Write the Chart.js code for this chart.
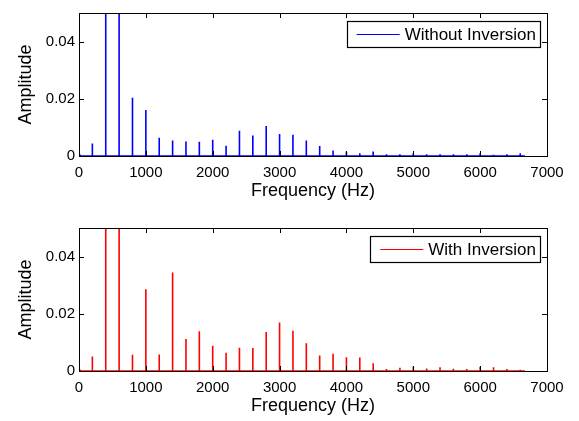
<!DOCTYPE html>
<html>
<head>
<meta charset="utf-8">
<script src="https://cdn.jsdelivr.net/npm/chart.js@4"></script>
<style>
  body { margin: 0; background: #fff; }
  #wrap { position: relative; width: 579px; height: 421px; }
  canvas { position: absolute; left: 0; }
  #topChart { top: 0; }
  #bottomChart { top: 215px; }
</style>
</head>
<body>
<div id="wrap">
  <canvas id="topChart" width="579" height="206"></canvas>
  <canvas id="bottomChart" width="579" height="206"></canvas>
</div>
<script>
// harmonic frequencies (Hz)
const freqs = [200, 400, 600, 800, 1000, 1200, 1400, 1600, 1800, 2000, 2200,
  2400, 2600, 2800, 3000, 3200, 3400, 3600, 3800, 4000, 4200, 4400,
  4600, 4800, 5000, 5200, 5400, 5600, 5800, 6000, 6200, 6400, 6600];

// peak amplitudes (400 and 600 Hz run off the top)
const ampWithout = [0.0044, 0.075, 0.06, 0.0204, 0.0161, 0.0064, 0.0054, 0.0051, 0.0050, 0.0057, 0.0036,
  0.0088, 0.0072, 0.0105, 0.0077, 0.0074, 0.0054, 0.0035, 0.0019, 0.0015, 0.0010, 0.0016,
  0.0006, 0.0006, 0.0010, 0.0006, 0.0006, 0.0006, 0.0006, 0.0010, 0.0004, 0.0006, 0.0010];

const ampWith = [0.0051, 0.075, 0.06, 0.0057, 0.0286, 0.0058, 0.0344, 0.0112, 0.0139, 0.0088, 0.0064,
  0.0081, 0.0080, 0.0136, 0.0170, 0.0141, 0.0097, 0.0054, 0.0060, 0.0048, 0.0047, 0.0027,
  0.0007, 0.0011, 0.0015, 0.0009, 0.0013, 0.0008, 0.0007, 0.0015, 0.0013, 0.0007, 0.0004];

const xTicks = [0, 1000, 2000, 3000, 4000, 5000, 6000, 7000];
const yTicks = [0, 0.02, 0.04];
const freqEnd = 6670;

const FONT = "'Liberation Sans', Arial, Helvetica, sans-serif";

// turn peaks into a stick spectrum: baseline, up to the peak, back down
function spectrum(amps) {
  const pts = [{ x: 0, y: 0.0008 }, { x: 20, y: 0 }];
  freqs.forEach((f, i) => {
    pts.push({ x: f, y: 0 }, { x: f, y: amps[i] }, { x: f, y: 0 });
  });
  pts.push({ x: freqEnd, y: 0 });
  return pts;
}

// MATLAB-ish frame with inward ticks on all four sides
const framePlugin = {
  id: "frame",
  afterDatasetsDraw(chart) {
    const { ctx, chartArea: a, scales } = chart;
    const len = 5;
    ctx.save();
    ctx.strokeStyle = "#000";
    ctx.lineWidth = 1;
    ctx.beginPath();
    xTicks.forEach((v) => {
      const x = Math.round(scales.x.getPixelForValue(v)) + 0.5;
      ctx.moveTo(x, a.bottom); ctx.lineTo(x, a.bottom - len);
      ctx.moveTo(x, a.top); ctx.lineTo(x, a.top + len);
    });
    yTicks.forEach((v) => {
      const y = Math.round(scales.y.getPixelForValue(v)) + 0.5;
      ctx.moveTo(a.left, y); ctx.lineTo(a.left + len, y);
      ctx.moveTo(a.right, y); ctx.lineTo(a.right - len, y);
    });
    ctx.stroke();
    ctx.strokeRect(Math.round(a.left) + 0.5, Math.round(a.top) + 0.5,
      Math.round(a.right - a.left), Math.round(a.bottom - a.top));
    ctx.restore();
  },
};

// boxed legend in the top right corner of the plot
const boxLegend = {
  id: "boxLegend",
  afterDraw(chart) {
    const { ctx, chartArea: a } = chart;
    const ds = chart.data.datasets[0];
    ctx.save();
    ctx.font = "17px " + FONT;
    const tw = ctx.measureText(ds.label).width;
    const w = 10 + 43 + 5 + tw + 4;
    const h = 26;
    const right = a.right - 7;
    const top = a.top + 8;
    const left = right - w;
    ctx.fillStyle = "#fff";
    ctx.fillRect(left, top, w, h);
    ctx.strokeStyle = "#000";
    ctx.lineWidth = 1.2;
    ctx.strokeRect(Math.round(left) + 0.5, top + 0.5, Math.round(w), h);
    ctx.strokeStyle = ds.borderColor;
    ctx.lineWidth = 1;
    ctx.beginPath();
    ctx.moveTo(left + 10, top + h / 2 + 0.5);
    ctx.lineTo(left + 53, top + h / 2 + 0.5);
    ctx.stroke();
    ctx.fillStyle = "#000";
    ctx.textBaseline = "middle";
    ctx.fillText(ds.label, left + 58, top + h / 2 + 1);
    ctx.restore();
  },
};

function makeChart(id, label, color, amps) {
  return new Chart(document.getElementById(id), {
    type: "line",
    data: {
      datasets: [{
        label,
        data: spectrum(amps),
        borderColor: color,
        borderWidth: 1.6,
        pointRadius: 0,
        tension: 0,
        fill: false,
      }],
    },
    plugins: [framePlugin, boxLegend],
    options: {
      responsive: false,
      animation: false,
      layout: { padding: { top: 9, right: 32, left: 0, bottom: 0 } },
      plugins: { legend: { display: false }, tooltip: { enabled: false } },
      scales: {
        x: {
          type: "linear",
          min: 0,
          max: 7000,
          afterBuildTicks: (s) => { s.ticks = xTicks.map((v) => ({ value: v })); },
          afterFit: (s) => { s.height = 50; },
          grid: { display: false, drawTicks: false },
          border: { display: false },
          ticks: {
            color: "#000",
            padding: 8,
            maxRotation: 0,
            font: { family: FONT, size: 15 },
            callback: (v) => String(v),
          },
          title: {
            display: true,
            text: "Frequency (Hz)",
            color: "#000",
            font: { family: FONT, size: 18 },
            padding: { top: 0, bottom: 4 },
          },
        },
        y: {
          min: 0,
          max: 0.05,
          afterBuildTicks: (s) => { s.ticks = yTicks.map((v) => ({ value: v })); },
          afterFit: (s) => { s.width = 79; },
          grid: { display: false, drawTicks: false },
          border: { display: false },
          ticks: {
            color: "#000",
            padding: 4,
            font: { family: FONT, size: 15 },
            callback: (v) => (v === 0 ? "0" : v.toFixed(2)),
          },
          title: {
            display: true,
            text: "Amplitude",
            color: "#000",
            font: { family: FONT, size: 18 },
            padding: { top: 15, bottom: 0 },
          },
        },
      },
    },
  });
}

makeChart("topChart", "Without Inversion", "#0000ff", ampWithout);
makeChart("bottomChart", "With Inversion", "#ff0000", ampWith);
</script>
</body>
</html>
